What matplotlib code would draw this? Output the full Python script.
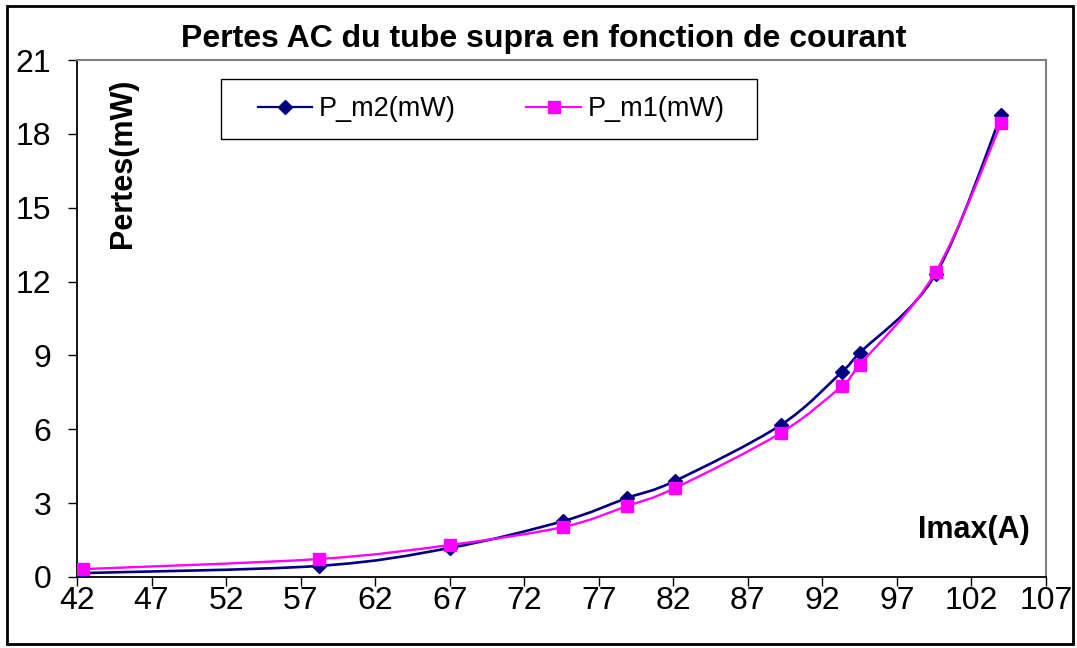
import numpy as np
import matplotlib
matplotlib.use("Agg")
import matplotlib.pyplot as plt
from matplotlib.path import Path
from matplotlib.patches import PathPatch, Rectangle
from matplotlib.lines import Line2D

plt.rcParams['font.family'] = ['Liberation Sans', 'DejaVu Sans']

# courant max (A) et pertes mesurees (mW)
imax = [42.4, 58.2, 67.0, 74.6, 78.9, 82.1, 89.2, 93.3, 94.5, 99.6, 104.0]
p_m2 = [0.16, 0.45, 1.18, 2.27, 3.21, 3.90, 6.17, 8.33, 9.10, 12.3, 18.77]
p_m1 = [0.32, 0.73, 1.30, 2.03, 2.88, 3.61, 5.85, 7.76, 8.61, 12.39, 18.44]

xticks = list(range(42, 108, 5))
yticks = list(range(0, 22, 3))


def smooth_path(xs, ys):
    # courbe lissee type Excel (bezier, tangentes catmull-rom)
    pts = np.column_stack([xs, ys]).astype(float)
    n = len(pts)
    verts = [pts[0]]
    codes = [Path.MOVETO]
    for i in range(n - 1):
        p0 = pts[i - 1] if i > 0 else pts[i]
        p1 = pts[i]
        p2 = pts[i + 1]
        p3 = pts[i + 2] if i + 2 < n else pts[i + 1]
        verts += [p1 + (p2 - p0) / 6, p2 - (p3 - p1) / 6, p2]
        codes += [Path.CURVE4] * 3
    return Path(verts, codes)


fig = plt.figure(figsize=(10.77, 6.48), dpi=100)
ax = fig.add_axes([77 / 1077, 1 - 577 / 648, 969 / 1077, 517 / 648])

navy = '#000080'
mag = '#FF00FF'

ax.add_patch(PathPatch(smooth_path(imax, p_m2), fill=False, edgecolor=navy, lw=1.9, zorder=3))
ax.plot(imax, p_m2, linestyle='none', marker='D', markersize=7.5, color=navy, zorder=4)
ax.add_patch(PathPatch(smooth_path(imax, p_m1), fill=False, edgecolor=mag, lw=1.7, zorder=5))
ax.plot(imax, p_m1, linestyle='none', marker='s', markersize=8.5, color=mag, zorder=6)

ax.set_xlim(42, 107)
ax.set_ylim(0, 21)
ax.set_xticks(xticks)
ax.set_yticks(yticks)
ax.tick_params(axis='x', direction='out', length=6.5, width=1, pad=0, labelsize=23)
ax.tick_params(axis='y', direction='out', length=6.5, width=1, pad=12, labelsize=23)

for s in ['left', 'bottom']:
    ax.spines[s].set_color('black')
    ax.spines[s].set_linewidth(1.3)
for s in ['top', 'right']:
    ax.spines[s].set_color('#808080')
    ax.spines[s].set_linewidth(1.5)

# legende
handles = [
    Line2D([], [], color=navy, lw=1.6, marker='D', markersize=7.5),
    Line2D([], [], color=mag, lw=1.5, marker='s', markersize=8.5),
]
ax.legend(handles, ['P_m2(mW)', 'P_m1(mW)'], ncol=2, frameon=False,
          loc='center left', bbox_to_anchor=(0.187, 0.905), borderpad=0,
          borderaxespad=0, handlelength=2.0, handletextpad=0.25,
          columnspacing=2.6, fontsize=19.5)
ax.add_patch(Rectangle((0.1486, 0.847), 0.5532, 0.116, transform=ax.transAxes,
                       fill=False, edgecolor='black', lw=1, zorder=7))

fig.text(0.505, 1 - 39 / 648, 'Pertes AC du tube supra en fonction de courant',
         ha='center', va='center', fontsize=23, fontweight='bold')
fig.text(123 / 1077, 1 - 163 / 648, 'Pertes(mW)', rotation=90, ha='center', va='center',
         fontsize=22, fontweight='bold')
fig.text(974 / 1077, 1 - 530 / 648, 'Imax(A)', ha='center', va='center',
         fontsize=22, fontweight='bold')

# cadre autour du graphique
fig.add_artist(Rectangle((7 / 1077, 4 / 648), 1066 / 1077, 638 / 648,
                         transform=fig.transFigure, fill=False,
                         edgecolor='black', lw=2))

fig.savefig('out.png', dpi=100, facecolor='white')
